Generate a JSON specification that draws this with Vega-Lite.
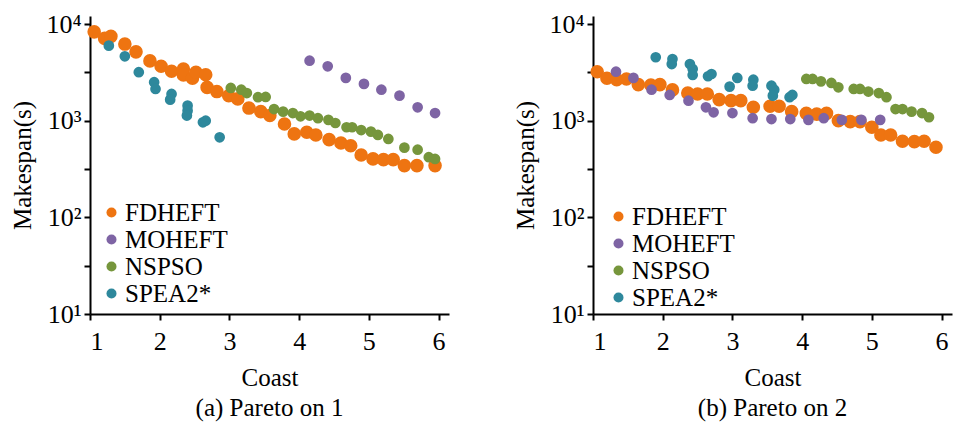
{
  "$schema": "https://vega.github.io/schema/vega-lite/v6.json",
  "padding": {"left": 10, "top": 11, "right": 2, "bottom": 5},
  "bounds": "flush",
  "spacing": 144,
  "config": {
    "font": "Liberation Serif",
    "view": {"stroke": null},
    "axis": {"grid": false, "domainColor": "black", "domainWidth": 2, "tickColor": "black", "tickWidth": 2, "tickSize": 6, "labelFont": "Liberation Serif", "labelFontSize": 26, "labelColor": "black", "titleFont": "Liberation Serif", "titleFontSize": 25, "titleFontWeight": "normal", "titleColor": "black"},
    "axisX": {"labelPadding": 8, "titlePadding": 11},
    "axisY": {"labelPadding": 3, "titlePadding": 10},
    "title": {"font": "Liberation Serif", "fontSize": 25, "fontWeight": "normal", "color": "black", "orient": "bottom", "offset": 6}
  },
  "datasets": {
    "p1": [
      {"x":1.06,"y":8300,"s":"FDHEFT"},{"x":1.21,"y":7100,"s":"FDHEFT"},{"x":1.30,"y":7450,"s":"FDHEFT"},{"x":1.50,"y":6200,"s":"FDHEFT"},{"x":1.66,"y":5150,"s":"FDHEFT"},{"x":1.86,"y":4150,"s":"FDHEFT"},{"x":2.02,"y":3650,"s":"FDHEFT"},{"x":2.17,"y":3250,"s":"FDHEFT"},{"x":2.34,"y":3420,"s":"FDHEFT"},{"x":2.34,"y":2970,"s":"FDHEFT"},{"x":2.47,"y":2750,"s":"FDHEFT"},{"x":2.52,"y":3170,"s":"FDHEFT"},{"x":2.66,"y":2990,"s":"FDHEFT"},{"x":2.68,"y":2210,"s":"FDHEFT"},{"x":2.82,"y":2000,"s":"FDHEFT"},{"x":2.99,"y":1810,"s":"FDHEFT"},{"x":3.12,"y":1680,"s":"FDHEFT"},{"x":3.28,"y":1350,"s":"FDHEFT"},{"x":3.45,"y":1240,"s":"FDHEFT"},{"x":3.58,"y":1130,"s":"FDHEFT"},{"x":3.79,"y":925,"s":"FDHEFT"},{"x":3.93,"y":730,"s":"FDHEFT"},{"x":4.11,"y":760,"s":"FDHEFT"},{"x":4.24,"y":710,"s":"FDHEFT"},{"x":4.43,"y":636,"s":"FDHEFT"},{"x":4.60,"y":588,"s":"FDHEFT"},{"x":4.74,"y":551,"s":"FDHEFT"},{"x":4.89,"y":442,"s":"FDHEFT"},{"x":5.06,"y":402,"s":"FDHEFT"},{"x":5.21,"y":395,"s":"FDHEFT"},{"x":5.35,"y":395,"s":"FDHEFT"},{"x":5.51,"y":343,"s":"FDHEFT"},{"x":5.69,"y":343,"s":"FDHEFT"},{"x":5.95,"y":343,"s":"FDHEFT"},
      {"x":4.15,"y":4170,"s":"MOHEFT"},{"x":4.41,"y":3650,"s":"MOHEFT"},{"x":4.67,"y":2770,"s":"MOHEFT"},{"x":4.93,"y":2400,"s":"MOHEFT"},{"x":5.18,"y":2090,"s":"MOHEFT"},{"x":5.44,"y":1815,"s":"MOHEFT"},{"x":5.70,"y":1375,"s":"MOHEFT"},{"x":5.95,"y":1200,"s":"MOHEFT"},
      {"x":3.02,"y":2180,"s":"NSPSO"},{"x":3.17,"y":2090,"s":"NSPSO"},{"x":3.25,"y":1930,"s":"NSPSO"},{"x":3.41,"y":1750,"s":"NSPSO"},{"x":3.52,"y":1760,"s":"NSPSO"},{"x":3.64,"y":1320,"s":"NSPSO"},{"x":3.77,"y":1240,"s":"NSPSO"},{"x":3.91,"y":1200,"s":"NSPSO"},{"x":4.02,"y":1110,"s":"NSPSO"},{"x":4.15,"y":1130,"s":"NSPSO"},{"x":4.27,"y":1060,"s":"NSPSO"},{"x":4.42,"y":1020,"s":"NSPSO"},{"x":4.52,"y":946,"s":"NSPSO"},{"x":4.68,"y":855,"s":"NSPSO"},{"x":4.76,"y":855,"s":"NSPSO"},{"x":4.89,"y":800,"s":"NSPSO"},{"x":5.03,"y":770,"s":"NSPSO"},{"x":5.13,"y":711,"s":"NSPSO"},{"x":5.28,"y":647,"s":"NSPSO"},{"x":5.51,"y":526,"s":"NSPSO"},{"x":5.70,"y":501,"s":"NSPSO"},{"x":5.86,"y":419,"s":"NSPSO"},{"x":5.95,"y":402,"s":"NSPSO"},
      {"x":1.27,"y":5970,"s":"SPEA2*"},{"x":1.50,"y":4630,"s":"SPEA2*"},{"x":1.70,"y":3170,"s":"SPEA2*"},{"x":1.92,"y":2500,"s":"SPEA2*"},{"x":1.94,"y":2130,"s":"SPEA2*"},{"x":2.17,"y":1890,"s":"SPEA2*"},{"x":2.15,"y":1650,"s":"SPEA2*"},{"x":2.40,"y":1430,"s":"SPEA2*"},{"x":2.40,"y":1270,"s":"SPEA2*"},{"x":2.39,"y":1130,"s":"SPEA2*"},{"x":2.62,"y":962,"s":"SPEA2*"},{"x":2.66,"y":1000,"s":"SPEA2*"},{"x":2.86,"y":673,"s":"SPEA2*"}
    ],
    "p2": [
      {"x":1.06,"y":3210,"s":"FDHEFT"},{"x":1.20,"y":2750,"s":"FDHEFT"},{"x":1.34,"y":2650,"s":"FDHEFT"},{"x":1.48,"y":2700,"s":"FDHEFT"},{"x":1.65,"y":2360,"s":"FDHEFT"},{"x":1.83,"y":2340,"s":"FDHEFT"},{"x":1.96,"y":2360,"s":"FDHEFT"},{"x":2.14,"y":2080,"s":"FDHEFT"},{"x":2.36,"y":1930,"s":"FDHEFT"},{"x":2.50,"y":1890,"s":"FDHEFT"},{"x":2.64,"y":1890,"s":"FDHEFT"},{"x":2.81,"y":1650,"s":"FDHEFT"},{"x":2.98,"y":1610,"s":"FDHEFT"},{"x":3.12,"y":1610,"s":"FDHEFT"},{"x":3.30,"y":1375,"s":"FDHEFT"},{"x":3.54,"y":1410,"s":"FDHEFT"},{"x":3.67,"y":1410,"s":"FDHEFT"},{"x":3.85,"y":1240,"s":"FDHEFT"},{"x":4.06,"y":1190,"s":"FDHEFT"},{"x":4.21,"y":1170,"s":"FDHEFT"},{"x":4.35,"y":1190,"s":"FDHEFT"},{"x":4.52,"y":1000,"s":"FDHEFT"},{"x":4.69,"y":977,"s":"FDHEFT"},{"x":4.83,"y":977,"s":"FDHEFT"},{"x":5.00,"y":855,"s":"FDHEFT"},{"x":5.13,"y":711,"s":"FDHEFT"},{"x":5.27,"y":711,"s":"FDHEFT"},{"x":5.44,"y":612,"s":"FDHEFT"},{"x":5.61,"y":607,"s":"FDHEFT"},{"x":5.75,"y":612,"s":"FDHEFT"},{"x":5.92,"y":531,"s":"FDHEFT"},
      {"x":1.33,"y":3210,"s":"MOHEFT"},{"x":1.58,"y":2770,"s":"MOHEFT"},{"x":1.84,"y":2090,"s":"MOHEFT"},{"x":2.10,"y":1845,"s":"MOHEFT"},{"x":2.37,"y":1610,"s":"MOHEFT"},{"x":2.62,"y":1375,"s":"MOHEFT"},{"x":2.73,"y":1220,"s":"MOHEFT"},{"x":3.00,"y":1200,"s":"MOHEFT"},{"x":3.29,"y":1060,"s":"MOHEFT"},{"x":3.56,"y":1040,"s":"MOHEFT"},{"x":3.83,"y":1040,"s":"MOHEFT"},{"x":4.09,"y":1020,"s":"MOHEFT"},{"x":4.31,"y":1060,"s":"MOHEFT"},{"x":4.57,"y":1020,"s":"MOHEFT"},{"x":4.85,"y":1020,"s":"MOHEFT"},{"x":5.12,"y":1020,"s":"MOHEFT"},
      {"x":4.06,"y":2700,"s":"NSPSO"},{"x":4.15,"y":2700,"s":"NSPSO"},{"x":4.27,"y":2550,"s":"NSPSO"},{"x":4.42,"y":2455,"s":"NSPSO"},{"x":4.52,"y":2215,"s":"NSPSO"},{"x":4.74,"y":2130,"s":"NSPSO"},{"x":4.83,"y":2130,"s":"NSPSO"},{"x":4.95,"y":2000,"s":"NSPSO"},{"x":5.10,"y":1930,"s":"NSPSO"},{"x":5.21,"y":1750,"s":"NSPSO"},{"x":5.34,"y":1320,"s":"NSPSO"},{"x":5.44,"y":1320,"s":"NSPSO"},{"x":5.57,"y":1240,"s":"NSPSO"},{"x":5.72,"y":1200,"s":"NSPSO"},{"x":5.82,"y":1085,"s":"NSPSO"},
      {"x":1.90,"y":4530,"s":"SPEA2*"},{"x":2.14,"y":4345,"s":"SPEA2*"},{"x":2.13,"y":3855,"s":"SPEA2*"},{"x":2.39,"y":3855,"s":"SPEA2*"},{"x":2.43,"y":3425,"s":"SPEA2*"},{"x":2.43,"y":2970,"s":"SPEA2*"},{"x":2.65,"y":2880,"s":"SPEA2*"},{"x":2.70,"y":3040,"s":"SPEA2*"},{"x":2.96,"y":2250,"s":"SPEA2*"},{"x":3.07,"y":2765,"s":"SPEA2*"},{"x":3.30,"y":2655,"s":"SPEA2*"},{"x":3.29,"y":2300,"s":"SPEA2*"},{"x":3.56,"y":2300,"s":"SPEA2*"},{"x":3.60,"y":2090,"s":"SPEA2*"},{"x":3.58,"y":1815,"s":"SPEA2*"},{"x":3.82,"y":1750,"s":"SPEA2*"},{"x":3.86,"y":1845,"s":"SPEA2*"}
    ]
  },
  "hconcat": [
    {
      "width": 359, "height": 298,
      "title": {"text": "(a) Pareto on 1"},
      "data": {"name": "p1"},
      "encoding": {
        "x": {"field": "x", "type": "quantitative", "title": "Coast", "scale": {"domain": [1, 6.15], "nice": false, "zero": false}, "axis": {"values": [1,2,3,4,5,6], "format": "d"}},
        "y": {"field": "y", "type": "quantitative", "title": "Makespan(s)", "scale": {"type": "log", "domain": [10, 12100], "nice": false}, "axis": {"values": [10, 31.62, 100, 316.2, 1000, 3162, 10000], "labelExpr": "indexof([10,100,1000,10000], datum.value) >= 0 ? '10' + ['¹','²','³','⁴'][round(log(datum.value)/LN10)-1] : ''"}},
        "color": {"field": "s", "type": "nominal", "scale": {"domain": ["FDHEFT","MOHEFT","NSPSO","SPEA2*"], "range": ["#EE7411","#7E64A4","#76963C","#2E889C"]}, "legend": {"title": null, "orient": "none", "legendX": 9, "legendY": 184, "symbolType": "circle", "symbolSize": 100, "symbolStrokeWidth": 0, "symbolOpacity": 1, "labelFont": "Liberation Serif", "labelFontSize": 25, "labelColor": "black", "labelOffset": 1, "rowPadding": 1}}
      },
      "layer": [
        {"transform": [{"filter": "datum.s == 'FDHEFT'"}], "mark": {"type": "point", "filled": true, "opacity": 1, "size": 185}},
        {"transform": [{"filter": "datum.s != 'FDHEFT'"}], "mark": {"type": "point", "filled": true, "opacity": 1, "size": 115}}
      ]
    },
    {
      "width": 359, "height": 298,
      "title": {"text": "(b) Pareto on 2"},
      "data": {"name": "p2"},
      "encoding": {
        "x": {"field": "x", "type": "quantitative", "title": "Coast", "scale": {"domain": [1, 6.15], "nice": false, "zero": false}, "axis": {"values": [1,2,3,4,5,6], "format": "d"}},
        "y": {"field": "y", "type": "quantitative", "title": "Makespan(s)", "scale": {"type": "log", "domain": [10, 12100], "nice": false}, "axis": {"values": [10, 31.62, 100, 316.2, 1000, 3162, 10000], "labelExpr": "indexof([10,100,1000,10000], datum.value) >= 0 ? '10' + ['¹','²','³','⁴'][round(log(datum.value)/LN10)-1] : ''"}},
        "color": {"field": "s", "type": "nominal", "scale": {"domain": ["FDHEFT","MOHEFT","NSPSO","SPEA2*"], "range": ["#EE7411","#7E64A4","#76963C","#2E889C"]}, "legend": {"title": null, "orient": "none", "legendX": 13, "legendY": 188, "symbolType": "circle", "symbolSize": 100, "symbolStrokeWidth": 0, "symbolOpacity": 1, "labelFont": "Liberation Serif", "labelFontSize": 25, "labelColor": "black", "labelOffset": 1, "rowPadding": 1}}
      },
      "layer": [
        {"transform": [{"filter": "datum.s == 'FDHEFT'"}], "mark": {"type": "point", "filled": true, "opacity": 1, "size": 185}},
        {"transform": [{"filter": "datum.s != 'FDHEFT'"}], "mark": {"type": "point", "filled": true, "opacity": 1, "size": 115}}
      ]
    }
  ],
  "resolve": {"scale": {"color": "independent", "x": "independent", "y": "independent"}, "legend": {"color": "independent"}}
}
